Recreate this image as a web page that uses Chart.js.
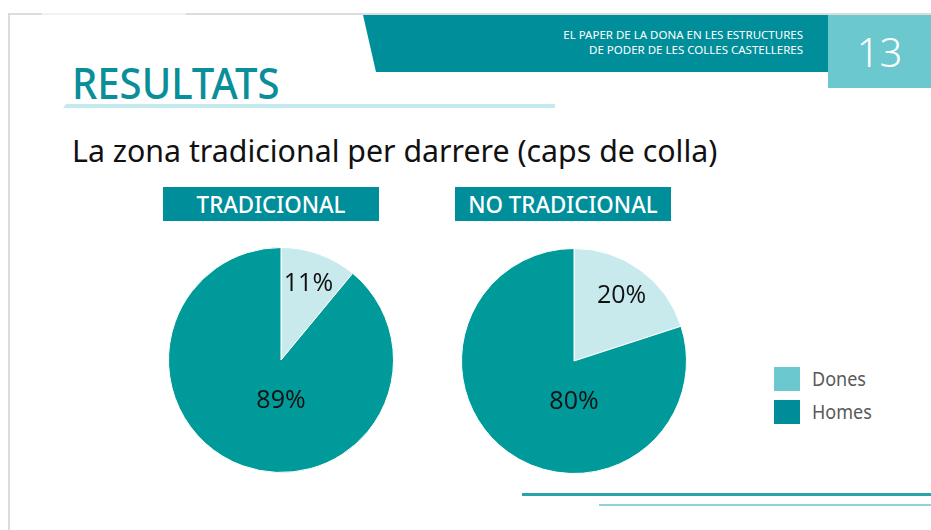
<!DOCTYPE html>
<html lang="ca">
<head>
  <meta charset="UTF-8">
  <title>Resultats</title>
  <script src="https://cdn.jsdelivr.net/npm/chart.js"></script>
  <style>
    html, body { margin: 0; padding: 0; background: #fff; }
    body { width: 931px; height: 530px; position: relative; overflow: hidden; font-family: "Noto Sans", "Open Sans", sans-serif; }
    .frame-top { position: absolute; left: 8px; top: 13px; width: 923px; height: 2px; background: #dcdcdc; }
    .frame-gap { position: absolute; left: 42px; top: 13px; width: 144px; height: 2px; background: #f2f2f2; }
    .frame-left { position: absolute; left: 8px; top: 13px; width: 2px; height: 517px; background: #dcdcdc; }
    .band { position: absolute; left: 363px; top: 15px; width: 466px; height: 57px; background: #008e9b;
            clip-path: polygon(0 0, 100% 0, 100% 100%, 13px 100%); }
    .band-text { position: absolute; right: 128px; top: 27px; color: #fff; font-size: 11.5px; line-height: 15px; text-align: right;
                 transform: scaleX(1.0); transform-origin: right; white-space: nowrap; }
    .page { position: absolute; left: 828px; top: 15px; width: 103px; height: 73px; background: #6cc8cf; color: #fff;
            font-size: 40px; font-weight: 300; line-height: 73px; text-align: center; }
    .title { position: absolute; left: 72px; top: 52px; color: #0a8e99; font-size: 44px; font-weight: 500;
             transform: scaleX(0.91); transform-origin: left; }
    .title-line { position: absolute; left: 63px; top: 104px; width: 492px; height: 4px; background: #c5eaee;
                  clip-path: polygon(3px 0, 100% 0, 100% 100%, 0 100%); }
    .subtitle { position: absolute; left: 72px; top: 130px; color: #111; font-size: 30px;
                transform: scaleX(1.01); transform-origin: left; white-space: nowrap; }
    .tag { position: absolute; top: 187px; width: 216px; height: 34px; background: #008e9b; color: #fff; font-size: 24px;
           font-weight: 500; line-height: 34px; text-align: center; }
    .tag span { display: inline-block; transform: scaleX(0.93); }
    .pie { position: absolute; width: 226px; height: 226px; }
    .legend { position: absolute; left: 774px; top: 367px; font-size: 20px; color: #595959; }
    .legend div { position: relative; height: 33px; }
    .legend i { position: absolute; left: 0; top: 0; width: 26px; height: 24px; }
    .legend span { position: absolute; left: 38px; top: -2px; transform: scaleX(0.9); transform-origin: left; }
    .line1 { position: absolute; left: 522px; top: 493px; width: 409px; height: 3px; background: #2aa3ad; }
    .line2 { position: absolute; left: 599px; top: 504px; width: 332px; height: 2px; background: #8fd3d9; }
  </style>
</head>
<body>
  <div class="frame-top"></div>
  <div class="frame-gap"></div>
  <div class="frame-left"></div>

  <div class="band"></div>
  <div class="band-text">EL PAPER DE LA DONA EN LES ESTRUCTURES<br>DE PODER DE LES COLLES CASTELLERES</div>
  <div class="page">13</div>

  <div class="title">RESULTATS</div>
  <div class="title-line"></div>
  <div class="subtitle">La zona tradicional per darrere (caps de colla)</div>

  <div class="tag" style="left:163px"><span>TRADICIONAL</span></div>
  <div class="tag" style="left:455px"><span>NO TRADICIONAL</span></div>

  <div class="pie" style="left:168px; top:247px"><canvas id="pieTrad"></canvas></div>
  <div class="pie" style="left:461px; top:248px"><canvas id="pieNoTrad"></canvas></div>

  <div class="legend">
    <div><i style="background:#6cc8cf"></i><span>Dones</span></div>
    <div><i style="background:#008c99"></i><span>Homes</span></div>
  </div>

  <div class="line1"></div>
  <div class="line2"></div>

  <script>
    const categories = ['Dones', 'Homes'];
    const tradicional = [11, 89];
    const noTradicional = [20, 80];
    const sliceColors = ['#c8eaed', '#009a9a'];

    // percentage labels: small slice along its mid-angle, big slice below the centre
    const sliceLabels = {
      id: 'sliceLabels',
      afterDatasetsDraw(chart) {
        const ctx = chart.ctx;
        const meta = chart.getDatasetMeta(0);
        ctx.save();
        ctx.font = '25px "Open Sans", "Noto Sans", sans-serif';
        ctx.fillStyle = '#111';
        ctx.textAlign = 'center';
        ctx.textBaseline = 'middle';
        meta.data.forEach((arc, i) => {
          const v = chart.data.datasets[0].data[i];
          let x, y;
          if (v < 50) {
            const mid = (arc.startAngle + arc.endAngle) / 2;
            const r = arc.outerRadius * 0.72;
            x = arc.x + Math.cos(mid) * r;
            y = arc.y + Math.sin(mid) * r;
          } else {
            x = arc.x;
            y = arc.y + arc.outerRadius * 0.36;
          }
          ctx.fillText(v + '%', x, y);
        });
        ctx.restore();
      }
    };

    function makePie(id, values) {
      new Chart(document.getElementById(id), {
        type: 'pie',
        data: {
          labels: categories,
          datasets: [{
            data: values,
            backgroundColor: sliceColors,
            borderColor: '#ffffff',
            borderWidth: 1,
            hoverOffset: 0
          }]
        },
        options: {
          responsive: true,
          maintainAspectRatio: false,
          animation: false,
          layout: { padding: 0 },
          plugins: {
            legend: { display: false },
            tooltip: { enabled: false }
          }
        },
        plugins: [sliceLabels]
      });
    }

    makePie('pieTrad', tradicional);
    makePie('pieNoTrad', noTradicional);
  </script>
</body>
</html>
